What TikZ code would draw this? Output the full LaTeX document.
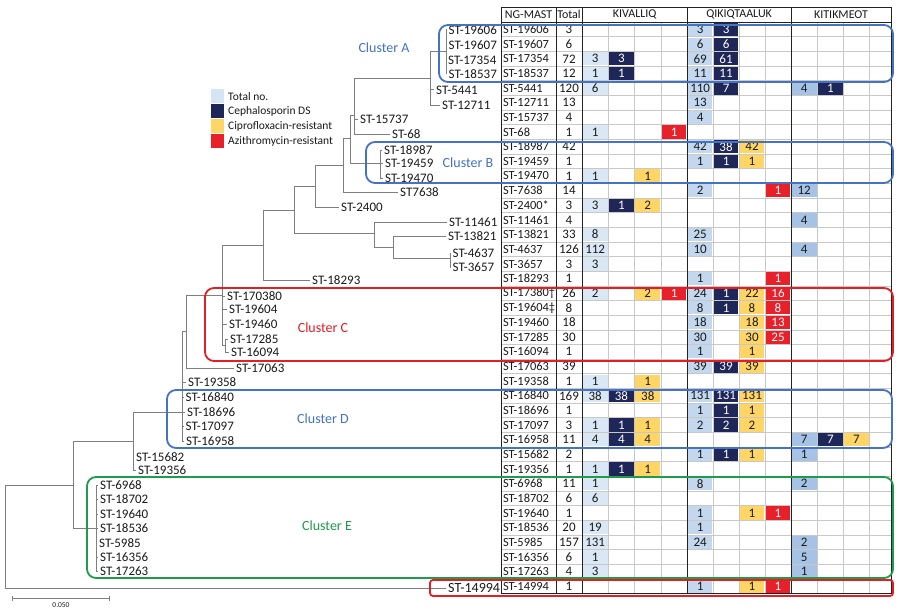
\documentclass[tikz,border=0pt]{standalone}
\usepackage{fontspec}
\setmainfont{Carlito}
\definecolor{treegray}{HTML}{7F7F7F}
\definecolor{gridgray}{HTML}{C8C8C8}
\definecolor{darkline}{HTML}{222222}
\definecolor{fk}{HTML}{DAE8F6}
\definecolor{fq}{HTML}{C3D8EE}
\definecolor{fm}{HTML}{A6C3E6}
\definecolor{fc}{HTML}{1E2758}
\definecolor{fp}{HTML}{FFD666}
\definecolor{fa}{HTML}{E8202A}
\definecolor{tk}{HTML}{1A1A1A}
\definecolor{tq}{HTML}{1A1A1A}
\definecolor{tm}{HTML}{1A1A1A}
\definecolor{tc}{HTML}{FFFFFF}
\definecolor{tp}{HTML}{1A1A1A}
\definecolor{ta}{HTML}{FFFFFF}
\definecolor{legtot}{HTML}{D5E5F5}
\definecolor{cblue}{HTML}{4472C4}
\definecolor{cred}{HTML}{E31E24}
\definecolor{cgreen}{HTML}{1E9B4B}
\begin{document}
\begin{tikzpicture}[x=1pt,y=-1pt,
  tree/.style={draw=treegray, line width=1pt},
  leaf/.style={anchor=west, inner sep=2pt, font=\fontsize{13}{15}\selectfont, text=tk},
  tabtext/.style={inner sep=0pt, font=\fontsize{13}{15}\selectfont, text=tk},
  nametext/.style={inner sep=0pt, font=\fontsize{12.4}{15}\selectfont, text=tk},
  headtext/.style={inner sep=0pt, font=\fontsize{12}{14}\selectfont, text=tk},
  cellbox/.style={inner sep=0pt, minimum height=13.2pt, font=\fontsize{13}{15}\selectfont},
  grid/.style={draw=gridgray, line width=0.7pt},
  major/.style={draw=darkline, line width=1pt},
  clusterbox/.style={line width=1.8pt, rounded corners=9pt},
  clusterlabel/.style={inner sep=0pt, font=\fontsize{14}{16}\selectfont},
  legendtext/.style={anchor=west, inner sep=0pt, font=\fontsize{11.5}{13}\selectfont, text=tk},
  swatch/.style={minimum width=13.6pt, minimum height=14pt, inner sep=0pt}
]
\useasboundingbox (0,0) rectangle (900,610);
\fill[white] (0,0) rectangle (900,610);

% ---------------- tree: internal nodes
\coordinate (r) at (5,536);
\coordinate (ee) at (73,485);
\coordinate (cc) at (133,441);
\coordinate (ce) at (96,528);
\coordinate (dd) at (182,412);
\coordinate (bb) at (186,331);
\coordinate (aa) at (222,295);
\coordinate (c2) at (225,345);
\coordinate (z) at (263,245);
\coordinate (u) at (294,210);
\coordinate (s) at (315,186);
\coordinate (rr) at (343,165);
\coordinate (q) at (350,138);
\coordinate (p1) at (354,115);
\coordinate (xa) at (430,79);
\coordinate (cla) at (446,52);
\coordinate (clb) at (380,163);
\coordinate (v) at (374,233);
\coordinate (w) at (393,247);
\coordinate (yy) at (450,258);

% ---------------- tree: leaves
\node[leaf] (la1) at (446.5,30) {ST-19606};
\node[leaf] (la2) at (446.5,45) {ST-19607};
\node[leaf] (la3) at (446,60) {ST-17354};
\node[leaf] (la4) at (446.5,74) {ST-18537};
\node[leaf] (l5441) at (434,90) {ST-5441};
\node[leaf] (l12711) at (440,105) {ST-12711};
\node[leaf] (l15737) at (358,119) {ST-15737};
\node[leaf] (l68) at (390,134) {ST-68};
\node[leaf] (lb1) at (382,150) {ST-18987};
\node[leaf] (lb2) at (383,163) {ST-19459};
\node[leaf] (lb3) at (383,178) {ST-19470};
\node[leaf] (l7638) at (398,192) {ST7638};
\node[leaf] (l2400) at (339,207) {ST-2400};
\node[leaf] (l11461) at (447,222) {ST-11461};
\node[leaf] (l13821) at (446,236) {ST-13821};
\node[leaf] (l4637) at (450.5,253) {ST-4637};
\node[leaf] (l3657) at (450.5,267) {ST-3657};
\node[leaf] (l18293) at (310,280) {ST-18293};
\node[leaf] (lc1) at (225,296) {ST-170380};
\node[leaf] (lc2) at (227,309) {ST-19604};
\node[leaf] (lc3) at (227,324) {ST-19460};
\node[leaf] (lc4) at (228,339) {ST-17285};
\node[leaf] (lc5) at (229,352) {ST-16094};
\node[leaf] (l17063) at (234,368) {ST-17063};
\node[leaf] (l19358) at (186,382) {ST-19358};
\node[leaf] (ld1) at (183.5,397) {ST-16840};
\node[leaf] (ld2) at (185,412) {ST-18696};
\node[leaf] (ld3) at (183.5,426) {ST-17097};
\node[leaf] (ld4) at (184,441) {ST-16958};
\node[leaf] (l15682) at (134,457) {ST-15682};
\node[leaf] (l19356) at (136,470) {ST-19356};
\node[leaf] (le1) at (98,485) {ST-6968};
\node[leaf] (le2) at (98,499) {ST-18702};
\node[leaf] (le3) at (98,514) {ST-19640};
\node[leaf] (le4) at (98,528) {ST-18536};
\node[leaf] (le5) at (97,543) {ST-5985};
\node[leaf] (le6) at (98,557) {ST-16356};
\node[leaf] (le7) at (98,571) {ST-17263};
\node[leaf, font=\fontsize{14}{16}\selectfont] (l14994) at (446,588) {ST-14994};

% ---------------- tree: branches
\draw[tree] (r) |- (ee);
\draw[tree] (r) |- (l14994.west);
\draw[tree] (ee) |- (cc);
\draw[tree] (ee) |- (ce);
\foreach \n in {le1,le2,le3,le4,le5,le6,le7} \draw[tree] (ce) |- (\n.west);
\draw[tree] (cc) |- (dd);
\draw[tree] (cc) |- (l15682.west);
\draw[tree] (cc) |- (l19356.west);
\draw[tree] (dd) |- (bb);
\foreach \n in {l19358,ld1,ld2,ld3,ld4} \draw[tree] (dd) |- (\n.west);
\draw[tree] (bb) |- (aa);
\draw[tree] (bb) |- (l17063.west);
\draw[tree] (aa) |- (z);
\draw[tree] (aa) |- (c2);
\foreach \n in {lc1,lc2,lc3} \draw[tree] (aa) |- (\n.west);
\draw[tree] (c2) |- (lc4.west);
\draw[tree] (c2) |- (lc5.west);
\draw[tree] (z) |- (u);
\draw[tree] (z) |- (l18293.west);
\draw[tree] (u) |- (s);
\draw[tree] (u) |- (v);
\draw[tree] (s) |- (rr);
\draw[tree] (s) |- (l2400.west);
\draw[tree] (rr) |- (q);
\draw[tree] (rr) |- (l7638.west);
\draw[tree] (q) |- (p1);
\draw[tree] (q) |- (clb);
\foreach \n in {lb1,lb2,lb3} \draw[tree] (clb) |- (\n.west);
\draw[tree] (p1) |- (xa);
\draw[tree] (p1) |- (l15737.west);
\draw[tree] (p1) |- (l68.west);
\draw[tree] (xa) |- (cla);
\draw[tree] (xa) |- (l5441.west);
\draw[tree] (xa) |- (l12711.west);
\foreach \n in {la1,la2,la3,la4} \draw[tree] (cla) |- (\n.west);
\draw[tree] (v) |- (l11461.west);
\draw[tree] (v) |- (w);
\draw[tree] (w) |- (l13821.west);
\draw[tree] (w) |- (yy);
\draw[tree] (yy) |- (l4637.west);
\draw[tree] (yy) |- (l3657.west);

% scale bar
\coordinate (sb1) at (12,598);
\coordinate (sb2) at (109,598);
\draw[tree, line width=0.8pt] (sb1) -- (sb2);
\draw[tree, line width=0.8pt] ([yshift=2.5pt]sb1) -- ([yshift=-2.5pt]sb1);
\draw[tree, line width=0.8pt] ([yshift=2.5pt]sb2) -- ([yshift=-2.5pt]sb2);
\node[inner sep=0pt, font=\fontsize{7.5}{8}\selectfont, text=darkline] (sblabel) at (61,605) {0.050};

% ---------------- legend
\node[swatch, fill=legtot] (sw1) at (217.5,96) {};
\node[swatch, fill=fc] (sw2) at (217.5,111) {};
\node[swatch, fill=fp] (sw3) at (217.5,126) {};
\node[swatch, fill=fa] (sw4) at (217.5,141) {};
\node[legendtext] (lg1) at (228,97) {Total no.};
\node[legendtext] (lg2) at (228,111.5) {Cephalosporin DS};
\node[legendtext] (lg3) at (228,126.5) {Ciprofloxacin-resistant};
\node[legendtext] (lg4) at (228,141.5) {Azithromycin-resistant};

% ---------------- table grid
\def\colx{{582,608.3,634.6,660.9,687.2,713.1,739.0,765.0,791,817.3,843.5,869.5,891}}
\foreach \k in {0,...,39} {
  \pgfmathsetmacro\yl{22.2+\k*14.65}
  \draw[grid] (501,\yl) -- (891,\yl);
}
\foreach \xx in {608.3,634.6,660.9,713.1,739.0,765.0,817.3,843.5,869.5}
  \draw[grid] (\xx,22.2) -- (\xx,593.6);

% ---------------- table cells
\foreach \i/\cells in {
 1/{5/q/3,6/c/3},
 2/{5/q/6,6/c/6},
 3/{1/k/3,2/c/3,5/q/69,6/c/61},
 4/{1/k/1,2/c/1,5/q/11,6/c/11},
 5/{1/k/6,5/q/110,6/c/7,9/m/4,10/c/1},
 6/{5/q/13},
 7/{5/q/4},
 8/{1/k/1,4/a/1},
 9/{5/q/42,6/c/38,7/p/42},
 10/{5/q/1,6/c/1,7/p/1},
 11/{1/k/1,3/p/1},
 12/{5/q/2,8/a/1,9/m/12},
 13/{1/k/3,2/c/1,3/p/2},
 14/{9/m/4},
 15/{1/k/8,5/q/25},
 16/{1/k/112,5/q/10,9/m/4},
 17/{1/k/3},
 18/{5/q/1,8/a/1},
 19/{1/k/2,3/p/2,4/a/1,5/q/24,6/c/1,7/p/22,8/a/16},
 20/{5/q/8,6/c/1,7/p/8,8/a/8},
 21/{5/q/18,7/p/18,8/a/13},
 22/{5/q/30,7/p/30,8/a/25},
 23/{5/q/1,7/p/1},
 24/{5/q/39,6/c/39,7/p/39},
 25/{1/k/1,3/p/1},
 26/{1/k/38,2/c/38,3/p/38,5/q/131,6/c/131,7/p/131},
 27/{5/q/1,6/c/1,7/p/1},
 28/{1/k/1,2/c/1,3/p/1,5/q/2,6/c/2,7/p/2},
 29/{1/k/4,2/c/4,3/p/4,9/m/7,10/c/7,11/p/7},
 30/{5/q/1,6/c/1,7/p/1,9/m/1},
 31/{1/k/1,2/c/1,3/p/1},
 32/{1/k/1,5/q/8,9/m/2},
 33/{1/k/6},
 34/{5/q/1,7/p/1,8/a/1},
 35/{1/k/19,5/q/1},
 36/{1/k/131,5/q/24,9/m/2},
 37/{1/k/1,9/m/5},
 38/{1/k/3,9/m/1},
 39/{5/q/1,7/p/1,8/a/1}} {
  \pgfmathsetmacro\yc{29.5+(\i-1)*14.65}
  \foreach \cc/\ty/\val in \cells {
    \pgfmathsetmacro\xa{\colx[\cc-1]}
    \pgfmathsetmacro\xb{\colx[\cc]}
    \pgfmathsetmacro\xm{(\xa+\xb)/2}
    \pgfmathsetmacro\cw{\xb-\xa-1.6}
    \node[cellbox, fill=f\ty, text=t\ty, minimum width=\cw pt] (cell-\i-\cc) at (\xm,\yc) {\val};
  }
}

% ---------------- table names and totals
\foreach \i/\nm/\tot in {1/ST-19606/3, 2/ST-19607/6, 3/ST-17354/72, 4/ST-18537/12,
 5/ST-5441/120, 6/ST-12711/13, 7/ST-15737/4, 8/ST-68/1, 9/ST-18987/42, 10/ST-19459/1,
 11/ST-19470/1, 12/ST-7638/14, 13/ST-2400*/3, 14/ST-11461/4, 15/ST-13821/33,
 16/ST-4637/126, 17/ST-3657/3, 18/ST-18293/1, 19/ST-17380†/26, 20/ST-19604‡/8,
 21/ST-19460/18, 22/ST-17285/30, 23/ST-16094/1, 24/ST-17063/39, 25/ST-19358/1,
 26/ST-16840/169, 27/ST-18696/1, 28/ST-17097/3, 29/ST-16958/11, 30/ST-15682/2,
 31/ST-19356/1, 32/ST-6968/11, 33/ST-18702/6, 34/ST-19640/1, 35/ST-18536/20,
 36/ST-5985/157, 37/ST-16356/6, 38/ST-17263/4, 39/ST-14994/1} {
  \pgfmathsetmacro\yc{29.5+(\i-1)*14.65}
  \node[nametext, anchor=west] (nm-\i) at (502.8,\yc) {\nm};
  \node[tabtext] (tot-\i) at (569,\yc) {\tot};
}

% major lines
\draw[major] (501,7.2) -- (891,7.2);
\draw[major] (501,22.2) -- (891,22.2);
\draw[major] (501,593.6) -- (891,593.6);
\foreach \xx in {501,556,582,687.2,791,891}
  \draw[major] (\xx,7.2) -- (\xx,593.6);

% header
\node[headtext] (h-ng) at (528.5,14.8) {NG-MAST};
\node[headtext] (h-tot) at (569,14.8) {Total};
\node[headtext] (h-kiv) at (634.6,14.8) {KIVALLIQ};
\node[headtext] (h-qik) at (739.1,14.8) {QIKIQTAALUK};
\node[headtext] (h-kit) at (841,14.8) {KITIKMEOT};

% ---------------- cluster boxes
\draw[clusterbox, draw=cblue] (439,25) rectangle (893,82);
\draw[clusterbox, draw=cblue] (366,142) rectangle (893,183);
\draw[clusterbox, draw=cred] (205,288) rectangle (893,361);
\draw[clusterbox, draw=cblue] (167,390) rectangle (892,448);
\draw[clusterbox, draw=cgreen] (87,477) rectangle (893,578);
\draw[clusterbox, draw=cred, rounded corners=3pt] (430,580) rectangle (893,596);

\node[clusterlabel, text=cblue] (labA) at (384,48) {Cluster A};
\node[clusterlabel, text=cblue] (labB) at (468,163) {Cluster B};
\node[clusterlabel, text=cred] (labC) at (323,328) {Cluster C};
\node[clusterlabel, text=cblue] (labD) at (323,419) {Cluster D};
\node[clusterlabel, text=cgreen] (labE) at (327,526) {Cluster E};
\end{tikzpicture}
\end{document}
